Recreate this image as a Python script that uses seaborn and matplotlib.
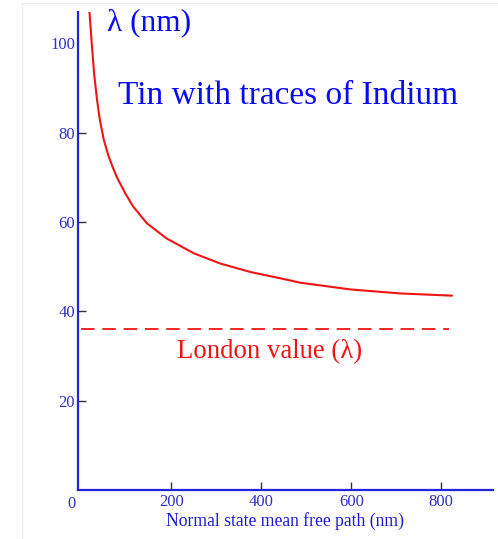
import matplotlib
matplotlib.use('Agg')
import matplotlib.pyplot as plt
import seaborn as sns
import pandas as pd
from matplotlib.lines import Line2D

# ---- data ----
mean_free_path = [18.5, 23.5, 29, 35, 41, 50, 61, 70, 79, 98, 116, 146, 190, 250,
                  309, 376, 442, 487, 598, 709, 824]
penetration_depth = [107, 100, 93, 87.6, 83.2, 78.5, 74.7, 72.3, 70.1, 66.4, 63.4, 59.7,
                     56.3, 53.0, 50.7, 48.8, 47.4, 46.4, 44.9, 44.0, 43.5]
london_x = [0, 818]
london_y = [36, 36]
x_ticks = [200, 400, 600, 800]
y_ticks = [20, 40, 60, 80, 100]
x_tick_labels = ['200', '400', '600', '800']
y_tick_labels = ['20', '40', '60', '80', '100']

AXIS_BLUE = '#2424e0'
LABEL_BLUE = '#3030c8'
TEXT_BLUE = '#0a0af5'
RED = '#f01414'

sns.set_style('white')
plt.rcParams['font.family'] = ['Liberation Serif', 'DejaVu Serif']

W, H = 498, 539
fig = plt.figure(figsize=(W / 100, H / 100), dpi=100)
ax = fig.add_axes([78 / W, 49 / H, 415 / W, 478 / H])

df = pd.DataFrame({'mfp': mean_free_path, 'lam': penetration_depth})
sns.lineplot(data=df, x='mfp', y='lam', ax=ax, color=RED, linewidth=1.5, sort=False)
ldf = pd.DataFrame({'mfp': london_x, 'lam': london_y})
sns.lineplot(data=ldf, x='mfp', y='lam', ax=ax, color=RED, linewidth=1.3)
ax.lines[-1].set_linestyle((0, (7.5, 4.3)))

ax.set_xlim(-7, 915)
ax.set_ylim(0, 107)

for s in ['top', 'right']:
    ax.spines[s].set_visible(False)
for s in ['left', 'bottom']:
    ax.spines[s].set_color(AXIS_BLUE)
    ax.spines[s].set_linewidth(1.6)

ax.set_xticks(x_ticks)
ax.set_xticklabels(x_tick_labels)
ax.set_yticks(y_ticks)
ax.set_yticklabels(y_tick_labels)
ax.tick_params(axis='both', direction='in', length=6, width=1.0, color='#333333',
               labelcolor=LABEL_BLUE, labelsize=12, bottom=True, left=True)
ax.tick_params(axis='y', pad=2)
ax.tick_params(axis='x', pad=3)
ax.yaxis.get_major_ticks()[-1].tick1line.set_visible(False)

ax.set_ylabel('')
ax.set_xlabel('Normal state mean free path (nm)', fontsize=12.7, color='#1a1ad0')
ax.xaxis.set_label_coords(0.4976, -0.046)

fig.text(71 / W, 1 - 504 / H, '0', ha='center', va='center', color=LABEL_BLUE, fontsize=12)
fig.text(107 / W, 1 - 30 / H, 'λ (nm)', ha='left', va='baseline', color=TEXT_BLUE, fontsize=22.5)
fig.text(118 / W, 1 - 104 / H, 'Tin with traces of Indium', ha='left', va='baseline',
         color=TEXT_BLUE, fontsize=24)
fig.text(177 / W, 1 - 358 / H, 'London value (λ)', ha='left', va='baseline',
         color=RED, fontsize=19.3)

# faint scan border
fig.add_artist(Line2D([22 / W, 22 / W], [0, 1 - 3 / H], color='#ececec', lw=1,
                      transform=fig.transFigure))
fig.add_artist(Line2D([22 / W, 1], [1 - 3 / H, 1 - 3 / H], color='#ececec', lw=1,
                      transform=fig.transFigure))

fig.savefig('out.png', dpi=100)
